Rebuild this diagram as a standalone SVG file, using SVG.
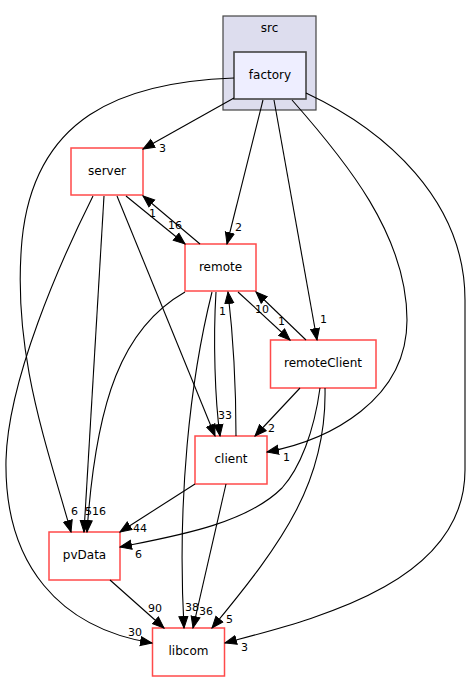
<svg xmlns="http://www.w3.org/2000/svg" width="470" height="681" viewBox="0 0 470 681">
<style>
.n{fill:#ffffff;stroke:#ff4a4a;stroke-width:1.5}
.t{font-family:"DejaVu Sans",sans-serif;font-size:12px;fill:#000;text-anchor:middle}
.e{fill:none;stroke:#000;stroke-width:1.1}
.l{font-family:"DejaVu Sans",sans-serif;font-size:11px;fill:#000}
</style>
<defs>
<marker id="a" markerUnits="userSpaceOnUse" markerWidth="13" markerHeight="11" viewBox="0 0 13 11" refX="12" refY="5.5" orient="auto">
<path d="M0.5,1 L12,5.5 L0.5,10 Z" fill="#000" stroke="#000" stroke-width="1"/>
</marker>
</defs>
<rect width="470" height="681" fill="#fff"/>
<g id="cluster_src">
<rect x="223" y="16" width="93" height="94" fill="#ddddee" stroke="#444" stroke-width="1.2"/>
<text class="t" x="269.5" y="32">src</text>
</g>
<g id="factory">
<rect x="234" y="52" width="72" height="47" fill="#eeeeff" stroke="#444" stroke-width="1.6"/>
<text class="t" x="270" y="78.5">factory</text>
</g>
<g id="server">
<rect class="n" x="71" y="148" width="72" height="47"/>
<text class="t" x="107" y="175">server</text>
</g>
<g id="remote">
<rect class="n" x="185" y="244" width="71" height="47"/>
<text class="t" x="220.5" y="271">remote</text>
</g>
<g id="remoteClient">
<rect class="n" x="270.5" y="340" width="105.5" height="48"/>
<text class="t" x="323" y="367">remoteClient</text>
</g>
<g id="client">
<rect class="n" x="195" y="436" width="72" height="48"/>
<text class="t" x="231" y="462.5">client</text>
</g>
<g id="pvData">
<rect class="n" x="49" y="532" width="71" height="48"/>
<text class="t" x="84.5" y="558.5">pvData</text>
</g>
<g id="libcom">
<rect class="n" x="152.5" y="628" width="72" height="48"/>
<text class="t" x="188.5" y="654.5">libcom</text>
</g>
<g id="edges">
<path class="e" marker-end="url(#a)" d="M234,98 L143,149"/>
<path class="e" marker-end="url(#a)" d="M234,78 C120,82 34,118 22,240 C12,350 45,440 71,532"/>
<path class="e" marker-end="url(#a)" d="M263,100 L227,244"/>
<path class="e" marker-end="url(#a)" d="M274,100 L317,340"/>
<path class="e" marker-end="url(#a)" d="M292,100 C345,160 407,235 407,320 C407,400 330,440 267,452"/>
<path class="e" marker-end="url(#a)" d="M306,93 C385,130 465,200 465,300 L465,470 C465,585 310,620 225,643"/>
<path class="e" marker-end="url(#a)" d="M126,196 L185,244"/>
<path class="e" marker-end="url(#a)" d="M200,244 L143,196"/>
<path class="e" marker-end="url(#a)" d="M104,196 L84,532"/>
<path class="e" marker-end="url(#a)" d="M117,196 L215,436"/>
<path class="e" marker-end="url(#a)" d="M93,196 C60,262 8,380 6,460 C4,565 60,628 152,643"/>
<path class="e" marker-end="url(#a)" d="M185,292 C122,328 96,400 87,532"/>
<path class="e" marker-end="url(#a)" d="M216,292 C213,340 215,400 220,436"/>
<path class="e" marker-end="url(#a)" d="M236,436 C236,390 233,335 228,292"/>
<path class="e" marker-end="url(#a)" d="M238,292 L290,340"/>
<path class="e" marker-end="url(#a)" d="M306,340 L256,292"/>
<path class="e" marker-end="url(#a)" d="M300,388 L255,436"/>
<path class="e" marker-end="url(#a)" d="M320,388 C314,432 300,468 282,488 C245,525 170,537 120,547"/>
<path class="e" marker-end="url(#a)" d="M325,388 C327,480 285,540 212,628"/>
<path class="e" marker-end="url(#a)" d="M212,292 C190,380 177,500 184,628"/>
<path class="e" marker-end="url(#a)" d="M226,484 L193,628"/>
<path class="e" marker-end="url(#a)" d="M195,484 L120,532"/>
<path class="e" marker-end="url(#a)" d="M110,580 L164,628"/>
</g>
<g id="labels">
<text class="l" x="159" y="152">3</text>
<text class="l" x="149" y="217">1</text>
<text class="l" x="168" y="229">16</text>
<text class="l" x="235" y="231">2</text>
<text class="l" x="219" y="315">1</text>
<text class="l" x="255" y="313">10</text>
<text class="l" x="278" y="325">1</text>
<text class="l" x="320" y="323">1</text>
<text class="l" x="218" y="419">33</text>
<text class="l" x="268" y="432">2</text>
<text class="l" x="283" y="461">1</text>
<text class="l" x="71" y="515">6</text>
<text class="l" x="85" y="515">51</text>
<text class="l" x="99" y="515">6</text>
<text class="l" x="133" y="532">44</text>
<text class="l" x="135" y="558">6</text>
<text class="l" x="148" y="612">90</text>
<text class="l" x="185" y="611">38</text>
<text class="l" x="199" y="615">36</text>
<text class="l" x="226" y="623">5</text>
<text class="l" x="128" y="636">30</text>
<text class="l" x="241" y="651">3</text>
</g>
</svg>
